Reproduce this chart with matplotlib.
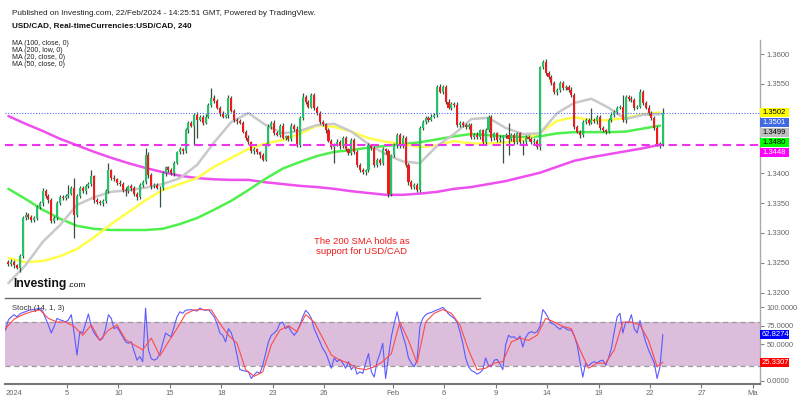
import numpy as np
import matplotlib
matplotlib.use("Agg")
import matplotlib.pyplot as plt
from matplotlib.patches import Rectangle
from matplotlib.lines import Line2D
from matplotlib.transforms import IdentityTransform
from matplotlib.ticker import FuncFormatter

# ---------------- data (4h candles, USD/CAD) ----------------
first_open = 1.3252
close = [
    1.3248, 1.3252, 1.3246, 1.3242, 1.3262, 1.3325, 1.3330, 1.3327, 1.3322, 1.3325,
    1.3344, 1.3350, 1.3370, 1.3362, 1.3355, 1.3320, 1.3325, 1.3350, 1.3360, 1.3358,
    1.3362, 1.3366, 1.3375, 1.3330, 1.3362, 1.3375, 1.3370, 1.3378, 1.3382, 1.3395,
    1.3355, 1.3352, 1.3350, 1.3354, 1.3370, 1.3405, 1.3393, 1.3390, 1.3384, 1.3382,
    1.3372, 1.3370, 1.3378, 1.3375, 1.3365, 1.3360, 1.3380, 1.3385, 1.3431, 1.3397,
    1.3378, 1.3380, 1.3376, 1.3375, 1.3400, 1.3410, 1.3405, 1.3400, 1.3418, 1.3435,
    1.3440, 1.3437, 1.3472, 1.3484, 1.3480, 1.3498, 1.3490, 1.3494, 1.3485, 1.3495,
    1.3515, 1.3527, 1.3522, 1.3510, 1.3500, 1.3495, 1.3497, 1.3527, 1.3505, 1.3490,
    1.3487, 1.3485, 1.3470, 1.3460, 1.3452, 1.3437, 1.3440, 1.3435, 1.3430, 1.3423,
    1.3448, 1.3478, 1.3485, 1.3468, 1.3465, 1.3480, 1.3460, 1.3462, 1.3458, 1.3480,
    1.3475, 1.3447, 1.3493, 1.3528, 1.3520, 1.3512, 1.3531, 1.3510, 1.3501, 1.3486,
    1.3482, 1.3472, 1.3455, 1.3444, 1.3448, 1.3453, 1.3445, 1.3459, 1.3440, 1.3434,
    1.3456, 1.3436, 1.3414, 1.3406, 1.3402, 1.3405, 1.3447, 1.3442, 1.3414, 1.3422,
    1.3417, 1.3440, 1.3437, 1.3365, 1.3430, 1.3447, 1.3464, 1.3445, 1.3460, 1.3414,
    1.3385, 1.3377, 1.3380, 1.3372, 1.3476, 1.3486, 1.3493, 1.3490, 1.3495, 1.3498,
    1.3545, 1.3537, 1.3545, 1.3520, 1.3510, 1.3517, 1.3515, 1.3481, 1.3485, 1.3481,
    1.3478, 1.3481, 1.3461, 1.3465, 1.3461, 1.3472, 1.3453, 1.3472, 1.3494, 1.3459,
    1.3467, 1.3456, 1.3460, 1.3462, 1.3465, 1.3458, 1.3464, 1.3453, 1.3467, 1.3453,
    1.3452, 1.3461, 1.3458, 1.3452, 1.3455, 1.3444, 1.3578, 1.3587, 1.3568, 1.3562,
    1.3551, 1.3536, 1.3540, 1.3551, 1.3543, 1.3545, 1.3540, 1.3531, 1.3478, 1.3470,
    1.3464, 1.3486, 1.3489, 1.3485, 1.3489, 1.3487, 1.3494, 1.3476, 1.3472, 1.3470,
    1.3489, 1.3498, 1.3503, 1.3510, 1.3511, 1.3489, 1.3528, 1.3525, 1.3523, 1.3510,
    1.3512, 1.3537, 1.3518, 1.3510, 1.3501, 1.3493, 1.3476, 1.3447, 1.3450, 1.3501,
]
# wick lengths in pips above / below the candle body
wick_up = [
    3, 4, 3, 2, 2, 3, 5, 4, 3, 3,   3, 4, 5, 3, 4, 3, 3, 4, 3, 4,
    3, 14, 4, 17, 3, 4, 3, 4, 3, 10,   3, 4, 3, 3, 4, 12, 3, 4, 3, 4,
    3, 5, 3, 4, 3, 4, 3, 3, 11, 4,   3, 3, 4, 3, 4, 3, 3, 4, 3, 3,
    4, 3, 4, 3, 3, 3, 4, 3, 3, 4,   3, 16, 4, 3, 3, 4, 3, 4, 3, 3,
    3, 4, 3, 3, 4, 3, 4, 3, 3, 4,   3, 4, 3, 4, 3, 3, 4, 3, 3, 4,
    3, 4, 3, 7, 3, 3, 4, 3, 3, 4,   3, 3, 4, 3, 3, 4, 3, 3, 4, 3,
    4, 3, 3, 4, 3, 3, 4, 3, 3, 4,   3, 4, 3, 3, 3, 4, 3, 3, 4, 3,
    3, 3, 4, 3, 3, 4, 3, 3, 4, 3,   3, 4, 3, 3, 4, 3, 3, 4, 3, 3,
    3, 4, 3, 3, 4, 3, 3, 4, 3, 3,   3, 3, 4, 3, 3, 20, 3, 4, 3, 3,
    3, 4, 3, 3, 4, 3, 2, 3, 4, 3,   3, 4, 3, 3, 4, 3, 3, 4, 3, 3,
    3, 3, 4, 3, 21, 3, 3, 4, 3, 3,   3, 4, 3, 3, 4, 20, 3, 3, 4, 3,
    3, 4, 3, 3, 4, 3, 3, 3, 3, 9,
]
wick_dn = [
    3, 3, 4, 3, 8, 4, 3, 3, 4, 3,   3, 3, 4, 3, 4, 3, 3, 4, 3, 3,
    3, 4, 3, 38, 4, 3, 3, 4, 3, 3,   4, 3, 3, 4, 3, 3, 4, 3, 4, 3,
    3, 8, 3, 4, 3, 4, 3, 3, 3, 4,   4, 3, 3, 31, 3, 4, 3, 3, 4, 3,
    3, 4, 3, 4, 3, 33, 30, 3, 4, 3,   3, 3, 4, 3, 4, 3, 3, 4, 3, 4,
    4, 3, 3, 4, 3, 3, 4, 3, 4, 3,   3, 3, 4, 3, 3, 4, 3, 4, 3, 3,
    4, 3, 3, 3, 4, 3, 3, 4, 3, 3,   3, 4, 3, 3, 27, 3, 4, 3, 3, 4,
    3, 3, 4, 3, 3, 4, 3, 3, 4, 3,   3, 3, 4, 5, 3, 3, 4, 3, 3, 4,
    4, 3, 3, 4, 3, 3, 3, 4, 3, 3,   3, 3, 4, 3, 3, 4, 3, 3, 4, 3,
    4, 3, 3, 4, 3, 3, 4, 3, 3, 4,   3, 4, 3, 43, 3, 28, 3, 3, 4, 3,
    21, 3, 4, 3, 3, 3, 5, 3, 3, 4,   3, 3, 4, 3, 3, 4, 3, 3, 4, 3,
    4, 3, 3, 4, 3, 3, 4, 3, 3, 4,   3, 3, 4, 3, 3, 3, 4, 3, 3, 4,
    3, 3, 4, 3, 3, 4, 3, 2, 5, 4,
]

# moving averages, read once per trading day (every 6th candle)
ma20 = [1.3216, 1.3246, 1.3285, 1.3313, 1.3347, 1.3360, 1.3369, 1.3372, 1.3376, 1.3382,
        1.3392, 1.3414, 1.3452, 1.3486, 1.3501, 1.3481, 1.3467, 1.3471, 1.3481, 1.3483,
        1.3470, 1.3449, 1.3432, 1.3420, 1.3417, 1.3446, 1.3466, 1.3491, 1.3493, 1.3476,
        1.3466, 1.3467, 1.3501, 1.3518, 1.3525, 1.3510, 1.3491, 1.3498, 1.3499]
ma50 = [1.3258, 1.3251, 1.3253, 1.3261, 1.3273, 1.3293, 1.3315, 1.3335, 1.3355, 1.3372,
        1.3382, 1.3392, 1.3411, 1.3426, 1.3441, 1.3450, 1.3456, 1.3466, 1.3480, 1.3478,
        1.3470, 1.3459, 1.3453, 1.3449, 1.3444, 1.3447, 1.3454, 1.3450, 1.3450, 1.3452,
        1.3456, 1.3468, 1.3488, 1.3494, 1.3489, 1.3489, 1.3493, 1.3499, 1.3502]
ma100 = [1.3374, 1.3357, 1.3339, 1.3324, 1.3312, 1.3307, 1.3305, 1.3305, 1.3305, 1.3307,
         1.3315, 1.3325, 1.3339, 1.3354, 1.3372, 1.3391, 1.3408, 1.3419, 1.3429, 1.3436,
         1.3439, 1.3443, 1.3446, 1.3449, 1.3452, 1.3457, 1.3462, 1.3466, 1.3464, 1.3462,
         1.3461, 1.3462, 1.3467, 1.3469, 1.3469, 1.3469, 1.3470, 1.3475, 1.3480]
ma200 = [1.3496, 1.3483, 1.3471, 1.3458, 1.3447, 1.3436, 1.3426, 1.3417, 1.3409, 1.3402,
         1.3396, 1.3392, 1.3390, 1.3389, 1.3389, 1.3385, 1.3382, 1.3379, 1.3377, 1.3374,
         1.3370, 1.3367, 1.3364, 1.3364, 1.3366, 1.3369, 1.3374, 1.3377, 1.3382, 1.3387,
         1.3394, 1.3401, 1.3411, 1.3421, 1.3427, 1.3432, 1.3437, 1.3442, 1.3448]

# Stochastic (14,1,3): %K per candle, %D every third candle
stoch_k = [
    69, 83, 87, 90, 87, 91, 93, 94, 96, 96.5,
    97, 98, 99, 95, 85, 76, 65, 74, 85, 83,
    82, 80, 83, 90, 65, 35, 67, 65, 78, 91,
    74, 65, 60, 55, 58, 71, 90, 85, 71, 73,
    67, 60, 53, 51, 53, 40, 28, 33, 26, 99,
    42, 30, 28, 30, 37, 51, 65, 62, 60, 74,
    87, 94, 92, 96, 96.5, 97, 96, 95, 99, 97,
    96, 97, 92, 87, 78, 65, 62, 53, 71, 65,
    53, 35, 15, 14, 13, 12, 3, 8, 12, 10,
    21, 37, 53, 62, 65, 69, 78, 80, 71, 74,
    67, 62, 67, 76, 87, 96, 92, 85, 71, 62,
    53, 44, 38, 28, 17, 31, 26, 29, 24, 17,
    26, 15, 21, 9, 12, 10, 24, 37, 12, 5,
    26, 37, 51, 3, 33, 60, 78, 94, 76, 62,
    49, 31, 24, 19, 28, 74, 85, 90, 92, 93,
    95, 96.5, 98, 100, 96.5, 91, 88, 85, 80, 67,
    51, 31, 19, 14, 12, 9, 11, 15, 31, 21,
    19, 28, 29, 23, 15, 49, 62, 59, 60, 56,
    61, 46, 59, 65, 67, 65, 67, 74, 97, 92,
    85, 78, 77, 73, 70, 74, 71, 69, 69, 61,
    49, 26, 5, 24, 20, 24, 26, 24, 27, 28,
    21, 31, 44, 67, 87, 92, 65, 80, 79, 90,
    71, 65, 82, 67, 53, 42, 33, 24, 3, 19,
    62.8274,
]
stoch_d = [71, 84, 90, 94, 96.5, 85, 80, 80, 74, 62, 76, 55, 69, 76, 56, 49, 42, 58, 34, 53,
           71, 91, 96.5, 97, 96.5, 78, 62, 51, 15, 6, 12, 49, 69, 75, 67, 90, 80, 58, 35, 28,
           24, 17, 15, 19, 26, 37, 80, 55, 24, 80, 92, 97, 92, 76, 42, 15, 17, 24, 26, 53,
           58, 55, 62, 85, 80, 74, 71, 42, 17, 24, 24, 42, 80, 80, 76, 55, 19, 25.3307]

date_labels = ["2024", "5", "10", "15", "18", "23", "26", "Feb", "6", "9", "14", "19", "22", "27", "Ma"]
date_day_index = [0, 4, 7, 10, 13, 16, 19, 23, 26, 29, 32, 35, 38, 41, 44]

# visible axis ticks (the others sit under the value boxes)
price_ticks = [1.3200, 1.3250, 1.3300, 1.3350, 1.3400, 1.3550, 1.3600]
stoch_ticks = [0, 50, 75, 100]

# ---------------- figure ----------------
plt.rcParams['font.family'] = ['Liberation Sans', 'DejaVu Sans']

W, H = 800, 399
fig = plt.figure(figsize=(W / 100, H / 100), dpi=100)
fig.patch.set_facecolor('white')


def fx(px):
    return px / W


def fy(py):
    return 1 - py / H


ax = fig.add_axes([fx(5), fy(297), (760 - 5) / W, (297 - 40) / H])
axs = fig.add_axes([fx(5), fy(384), (760 - 5) / W, (384 - 298) / H])

XMIN, XMAX = 1.81, 266.0
PIP = 0.0001
SPC = 6  # candles per trading day

close = np.array(close)
idx = np.arange(3, 3 + len(close))
opens = np.concatenate([[first_open], close[:-1]])
hi = np.maximum(opens, close) + np.array(wick_up) * PIP
lo = np.minimum(opens, close) - np.array(wick_dn) * PIP

GREEN = '#22c46a'
RED = '#f21b1b'
WICK = '#37503f'

ax.vlines(idx, lo, hi, color=WICK, lw=0.9, zorder=3)
body_bottom = np.minimum(opens, close)
body_h = np.maximum(np.abs(close - opens), 0.00007)
colors = np.where(close >= opens, GREEN, RED)
ax.bar(idx, body_h, bottom=body_bottom, width=0.72, color=colors, linewidth=0, zorder=4)

ma_idx = np.arange(3, 3 + SPC * len(ma20), SPC)
ax.plot(ma_idx, ma200, color='#ee4fee', lw=1.8, zorder=2, solid_capstyle='round')
ax.plot(ma_idx, ma100, color='#4ef04e', lw=1.8, zorder=2, solid_capstyle='round')
ax.plot(ma_idx, ma50, color='#ffff4a', lw=1.8, zorder=2, solid_capstyle='round')
ax.plot(ma_idx, ma20, color='#c9c9c9', lw=1.8, zorder=2, solid_capstyle='round')

ax.axhline(close[-1], color='#4a6cf0', lw=0.8, ls=(0, (1, 1.5)), zorder=5)
ax.axhline(ma200[-1], color='#ee33ee', lw=1.5, ls=(0, (4, 2.5)), zorder=5)

ax.set_xlim(XMIN, XMAX)
ax.set_ylim(1.31927, 1.36235)
ax.set_xticks([])
ax.yaxis.tick_right()
ax.set_yticks(price_ticks)
ax.yaxis.set_major_formatter(FuncFormatter(lambda v, p: f"{v:.4f}"))
ax.tick_params(axis='y', length=3, width=0.8, color='#888888', labelsize=5.5,
               labelcolor='#666666', pad=2)
for s in ['top', 'left', 'bottom']:
    ax.spines[s].set_visible(False)
ax.spines['right'].set_color('#aaaaaa')
ax.spines['right'].set_linewidth(1.0)
ax.set_facecolor('none')

# Stochastic panel
k_idx = np.arange(2, 2 + len(stoch_k))
d_idx = np.array(list(range(2, 231, 3)) + [232])
axs.axhspan(20, 80, color='#dcbedc', zorder=0, lw=0)
axs.axhline(80, color='#999999', lw=0.9, ls=(0, (4, 3)), zorder=1)
axs.axhline(20, color='#999999', lw=0.9, ls=(0, (4, 3)), zorder=1)
axs.plot(k_idx, stoch_k, color='#5a5aff', lw=0.8, zorder=3)
axs.plot(d_idx, stoch_d, color='#ff4a4a', lw=0.8, zorder=3)
axs.set_xlim(XMIN, XMAX)
axs.set_ylim(-4.5, 112.8)
axs.yaxis.tick_right()
axs.set_yticks(stoch_ticks)
axs.yaxis.set_major_formatter(FuncFormatter(lambda v, p: f"{v:.4f}"))
axs.tick_params(axis='y', length=3, width=0.8, color='#888888', labelsize=5.5,
                labelcolor='#666666', pad=2)

tick_pos, tick_lab = [], []
for d, lab in zip(date_day_index, date_labels):
    p = SPC * d - 0.5
    if p < XMIN:
        # label of a day that starts left of the visible area: pinned to the left edge
        axs.text(XMIN + 0.3, -0.075, lab, transform=axs.get_xaxis_transform(),
                 fontsize=5.5, color='#666666', ha='left', va='top')
    else:
        tick_pos.append(p)
        tick_lab.append(lab)
axs.set_xticks(tick_pos)
axs.set_xticklabels(tick_lab)
axs.tick_params(axis='x', length=3, width=0.8, color='#777777', labelsize=5.5,
                labelcolor='#666666', pad=1.5)
for s in ['top', 'left']:
    axs.spines[s].set_visible(False)
axs.spines['bottom'].set_color('#777777')
axs.spines['bottom'].set_linewidth(1.5)
axs.spines['right'].set_color('#aaaaaa')
axs.spines['right'].set_linewidth(1.0)
axs.set_facecolor('none')

# divider under price panel
fig.add_artist(Line2D([fx(5), fx(480)], [fy(297.5), fy(297.5)], color='#666666', lw=1.0))

# ---------------- right-side value labels ----------------
ID = IdentityTransform()


def value_box(y_disp, text, bg, fg):
    fig.add_artist(Rectangle((760, y_disp - 4.6), 29, 9.2, transform=ID,
                             facecolor=bg, edgecolor='none', zorder=10))
    fig.text(762, y_disp, text, transform=ID, fontsize=5.5, color=fg,
             va='center', ha='left', zorder=11)


labels_main = [(ma50[-1], '#ffff00', '#000000'),
               (close[-1], '#4169e1', '#ffffff'),
               (ma20[-1], '#c0c0c0', '#000000'),
               (ma100[-1], '#00ff00', '#000000'),
               (ma200[-1], '#ff00ff', '#ffffff')]
y0 = ax.transData.transform((0, labels_main[0][0]))[1]
for n, (v, bg, fg) in enumerate(labels_main):
    value_box(y0 - 10 * n, f"{v:.4f}", bg, fg)

for v, bg in [(stoch_k[-1], '#0000ff'), (stoch_d[-1], '#ff0000')]:
    yd = axs.transData.transform((0, v))[1]
    value_box(yd, f"{v:.4f}", bg, '#ffffff')

# ---------------- texts ----------------
fig.text(fx(12), fy(13.3), "Published on Investing.com, 22/Feb/2024 - 14:25:51 GMT, Powered by TradingView.",
         fontsize=5.9, va='center', ha='left', color='#222222')
fig.text(fx(12), fy(26), "USD/CAD, Real-timeCurrencies:USD/CAD, 240",
         fontsize=5.85, fontweight='bold', va='center', ha='left', color='#111111')
for n, t in enumerate(["MA (100, close, 0)", "MA (200, low, 0)", "MA (20, close, 0)", "MA (50, close, 0)"]):
    fig.text(fx(12), fy(43.3 + 7 * n), t, fontsize=5, va='center', ha='left', color='#222222')

fig.text(fx(362), fy(246.5), "The 200 SMA holds as\nsupport for USD/CAD", fontsize=6.8,
         color='#f01a1a', ha='center', va='center', linespacing=1.2)

fig.text(fx(13), fy(287), "Investing", fontsize=8.7, fontweight='bold', color='#111111',
         va='baseline', ha='left')
fig.text(fx(67.5), fy(287), ".com", fontsize=6, color='#111111', va='baseline', ha='left')

fig.text(fx(12), fy(308), "Stoch (14, 1, 3)", fontsize=5.5, color='#333333', va='center', ha='left')

fig.savefig("out.png", dpi=100)
